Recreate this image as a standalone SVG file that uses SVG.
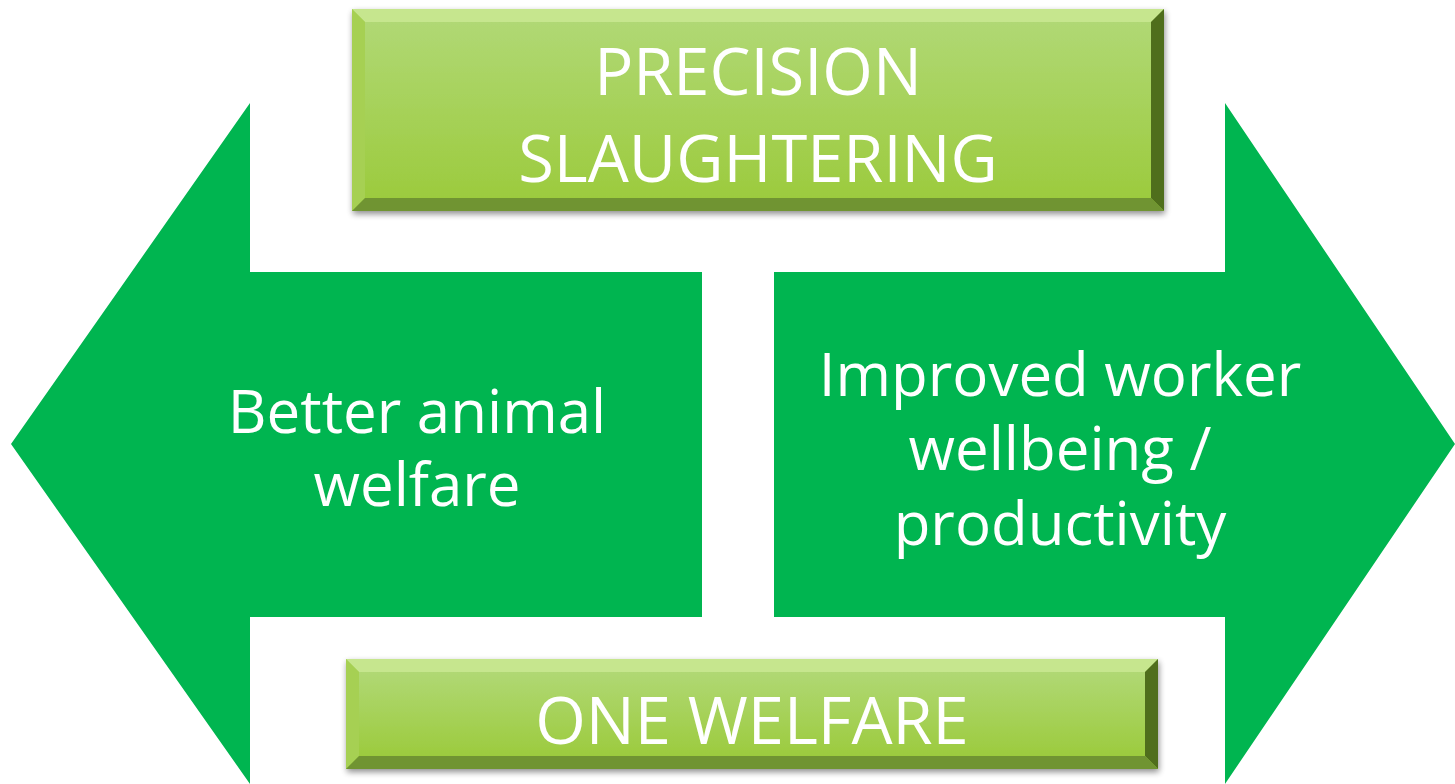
<svg xmlns="http://www.w3.org/2000/svg" width="1455" height="784" viewBox="0 0 1455 784">
<defs>
<linearGradient id="face" x1="0" y1="0" x2="0" y2="1">
<stop offset="0" stop-color="#b0d874"/>
<stop offset="1" stop-color="#9ccb3e"/>
</linearGradient>
<filter id="sh" x="-5%" y="-10%" width="110%" height="125%">
<feGaussianBlur in="SourceAlpha" stdDeviation="3"/>
<feOffset dx="1" dy="3" result="b"/>
<feComponentTransfer><feFuncA type="linear" slope="0.45"/></feComponentTransfer>
<feMerge><feMergeNode/><feMergeNode in="SourceGraphic"/></feMerge>
</filter>
</defs>
<style>
.arrow{fill:#00b550}
.t{font-family:"Open Sans","Liberation Sans",sans-serif;fill:#ffffff;text-anchor:middle}
.top{fill:#c6e68e}
.left{fill:#a6d052}
.right{fill:#4f6e1e}
.bot{fill:#6f9430}
</style>
<g id="arrow-left">
<polygon class="arrow" points="11,444 250,103 250,272 702,272 702,617 250,617 250,784"/>
<text class="t" font-size="60"><tspan x="417" y="433">Better animal</tspan><tspan x="417" y="506">welfare</tspan></text>
</g>
<g id="arrow-right">
<polygon class="arrow" points="1455,444 1225,103 1225,272 774,272 774,617 1225,617 1225,784"/>
<text class="t" font-size="60"><tspan x="1060" y="396">Improved worker</tspan><tspan x="1060" y="470">wellbeing /</tspan><tspan x="1060" y="545">productivity</tspan></text>
</g>
<g id="box-top" filter="url(#sh)">
<rect x="352" y="9" width="812" height="202" fill="url(#face)"/>
<polygon class="top" points="352,9 1164,9 1151,22 365,22"/>
<polygon class="left" points="352,9 365,22 365,198 352,211"/>
<polygon class="right" points="1164,9 1164,211 1151,198 1151,22"/>
<polygon class="bot" points="352,211 1164,211 1151,198 365,198"/>
<rect x="365" y="22" width="786" height="176" fill="url(#face)"/>
<text class="t" font-size="65"><tspan x="758" y="95">PRECISION</tspan><tspan x="758" y="182">SLAUGHTERING</tspan></text>
</g>
<g id="box-bottom" filter="url(#sh)">
<rect x="346" y="659" width="812" height="110" fill="url(#face)"/>
<polygon class="top" points="346,659 1158,659 1145,672 359,672"/>
<polygon class="left" points="346,659 359,672 359,756 346,769"/>
<polygon class="right" points="1158,659 1158,769 1145,756 1145,672"/>
<polygon class="bot" points="346,769 1158,769 1145,756 359,756"/>
<rect x="359" y="672" width="786" height="84" fill="url(#face)"/>
<text class="t" x="752" y="744" font-size="65">ONE WELFARE</text>
</g>
<g id="connectors"/>
</svg>
